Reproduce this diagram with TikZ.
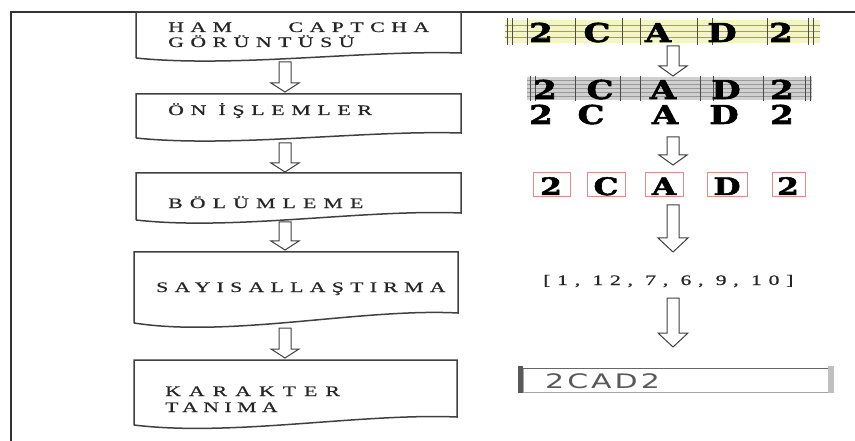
\documentclass[tikz,border=0pt]{standalone}
\usepackage{fontspec}
\setmainfont{Liberation Serif}
\newfontfamily\boxfont[FakeBold=0.6]{Liberation Serif}
\newfontfamily\capfont[FakeBold=2]{DejaVu Serif Bold}
\newfontfamily\resfont[LetterSpace=10]{DejaVu Sans}
\usetikzlibrary{calc}
\definecolor{capyellow}{HTML}{F4F4C4}
\definecolor{capgray}{HTML}{D0D0D0}
\definecolor{segred}{HTML}{E08A8A}
\newcommand\ls[2]{\scalebox{1.5}[1]{\addfontfeature{LetterSpace=#1}#2}}
\newcommand\cx[1]{\scalebox{1.3}[1]{#1}}
\newcommand\blockarrow[5]{%
  \draw[harrow] let \p1=(#1), \p2=(#2) in
   (\x1-#3pt,\y1) -- (\x1+#3pt,\y1) -- (\x1+#3pt,\y2+#5pt) -- (\x1+#4pt,\y2+#5pt)
   -- (\x1,\y2) -- (\x1-#4pt,\y2+#5pt) -- (\x1-#3pt,\y2+#5pt) -- cycle;}
\begin{document}
\begin{tikzpicture}[x=1pt,y=-1pt,
  frameline/.style={line width=2pt,draw=black!80},
  docline/.style={line width=1.5pt,draw=black!75},
  harrow/.style={line width=1pt,draw=black!75,fill=white},
  lbl/.style={font=\boxfont\fontsize{14.5}{15}\selectfont,anchor=base west,inner sep=0pt,text=black!85},
  capch/.style={font=\capfont\fontsize{26}{26}\selectfont,anchor=base,inner sep=0pt,text height=18pt,text depth=0pt},
  capchs/.style={font=\capfont\fontsize{24}{24}\selectfont,anchor=base,inner sep=0pt,text height=17pt,text depth=0pt},
  gridv/.style={draw=black!70,line width=0.8pt},
  gridh/.style={draw=black!40,line width=0.5pt},
  segbox/.style={draw=segred,line width=1pt}]
\useasboundingbox (0,0) rectangle (855,441);
% frame
\draw[frameline] (11,441) -- (11,12) -- (855,12);
% document boxes
\draw[docline] (136,58) -- (136,12) -- (461,12) -- (461,53)
  .. controls (364,50) and (233,68) .. (136,58);
\draw[docline] (136,138) -- (136,94) -- (461,94) -- (461,133)
  .. controls (364,130) and (233,148) .. (136,138);
\draw[docline] (136,220) -- (136,173) -- (461,173) -- (461,213)
  .. controls (364,209) and (233,231) .. (136,220);
\draw[docline] (134,323) -- (134,252) -- (458,252) -- (458,313)
  .. controls (361,308) and (231,338) .. (134,323);
\draw[docline] (134,425) -- (134,360) -- (457,360) -- (457,417)
  .. controls (360,413) and (231,437) .. (134,425);
% labels
\node[lbl] (t1a) at (168,32) {\ls{30}{\makebox[174pt][s]{HAM CAPTCHA}}};
\node[lbl] (t1b) at (168,47) {\ls{30}{GÖRÜNTÜSÜ}};
\node[lbl] (t2) at (168,115) {\ls{31}{ÖN İŞLEMLER}};
\node[lbl] (t3) at (168,208) {\ls{33}{BÖLÜMLEME}};
\node[lbl] (t4) at (156,292) {\ls{29}{SAYISALLAŞTIRMA}};
\node[lbl] (t5a) at (165,396) {\ls{37}{KARAKTER}};
\node[lbl] (t5b) at (165,412) {\ls{25}{TANIMA}};
% left arrows
\coordinate (l1s) at (285,62);  \coordinate (l1e) at (285,92);
\coordinate (l2s) at (285,143); \coordinate (l2e) at (285,172);
\coordinate (l3s) at (285,222); \coordinate (l3e) at (285,250);
\coordinate (l4s) at (285,328); \coordinate (l4e) at (285,358);
\blockarrow{l1s}{l1e}{6}{14}{9}
\blockarrow{l2s}{l2e}{6}{14}{9}
\blockarrow{l3s}{l3e}{6}{14}{9}
\blockarrow{l4s}{l4e}{6}{14}{9}
% row 1: raw captcha
\fill[capyellow] (505,20) rectangle (820,43);
\foreach \yy in {25,31,37} \draw[gridh] (505,\yy) -- (820,\yy);
\foreach \xx in {507,512,527,575,622,640,697,712,767,808,813} \draw[gridv] (\xx,18) -- (\xx,45);
\node[capch] (r1a) at (541,42) {\cx{2}};
\node[capch] (r1b) at (597,42) {\cx{C}};
\node[capch] (r1c) at (658,42) {\cx{A}};
\node[capch] (r1d) at (722,42) {\cx{D}};
\node[capch] (r1e) at (781,42) {\cx{2}};
% row 2: preprocessed
\fill[capgray] (527,77) rectangle (812,100);
\foreach \yy in {80,84,88,92,96} \draw[gridh] (527,\yy) -- (812,\yy);
\foreach \xx in {530,535,575,620,640,700,713,763,805,810} \draw[gridv] (\xx,76) -- (\xx,101);
\node[capch] (r2a) at (545,99) {\cx{2}};
\node[capch] (r2b) at (600,99) {\cx{C}};
\node[capch] (r2c) at (663,99) {\cx{A}};
\node[capch] (r2d) at (726,99) {\cx{D}};
\node[capch] (r2e) at (782,99) {\cx{2}};
% row 3: clean characters
\node[capch] (r3a) at (541,124) {\cx{2}};
\node[capch] (r3b) at (591,124) {\cx{C}};
\node[capch] (r3c) at (665,124) {\cx{A}};
\node[capch] (r3d) at (724,124) {\cx{D}};
\node[capch] (r3e) at (782,124) {\cx{2}};
% row 4: segmented
\draw[segbox] (533,173) rectangle (570,197);
\draw[segbox] (587,173) rectangle (625,197);
\draw[segbox] (645,173) rectangle (683,197);
\draw[segbox] (707,173) rectangle (747,197);
\draw[segbox] (772,173) rectangle (805,197);
\node[capchs] (r4a) at (551,195) {\cx{2}};
\node[capchs] (r4b) at (606,195) {\cx{C}};
\node[capchs] (r4c) at (664,195) {\cx{A}};
\node[capchs] (r4d) at (727,195) {\cx{D}};
\node[capchs] (r4e) at (788,195) {\cx{2}};
% numbers
\node[lbl] (num) at (543,285) {\ls{31}{[1, 12, 7, 6, 9, 10]}};
% result box
\fill[white] (523,368) rectangle (828,392);
\draw[draw=black!35,line width=0.6pt] (523,368) rectangle (828,392);
\draw[draw=black!60,line width=0.8pt] (523,368) -- (828,368);
\fill[black!65] (518,366) rectangle (523,393);
\fill[black!25] (828,366) rectangle (834,393);
\node[font=\resfont\fontsize{20}{20}\selectfont,anchor=base west,inner sep=0pt,text=black!65] (res) at (545,388) {\scalebox{1.5}[1]{2CAD2}};
% right arrows
\coordinate (r1s) at (673,46);  \coordinate (r1e) at (673,76);
\coordinate (r2s) at (673,137); \coordinate (r2e) at (673,165);
\coordinate (r3s) at (673,205); \coordinate (r3e) at (673,252);
\coordinate (r4s) at (673,298); \coordinate (r4e) at (673,347);
\blockarrow{r1s}{r1e}{6}{14}{10}
\blockarrow{r2s}{r2e}{6}{14}{10}
\blockarrow{r3s}{r3e}{6}{15}{14}
\blockarrow{r4s}{r4e}{6}{15}{14}
\end{tikzpicture}
\end{document}
